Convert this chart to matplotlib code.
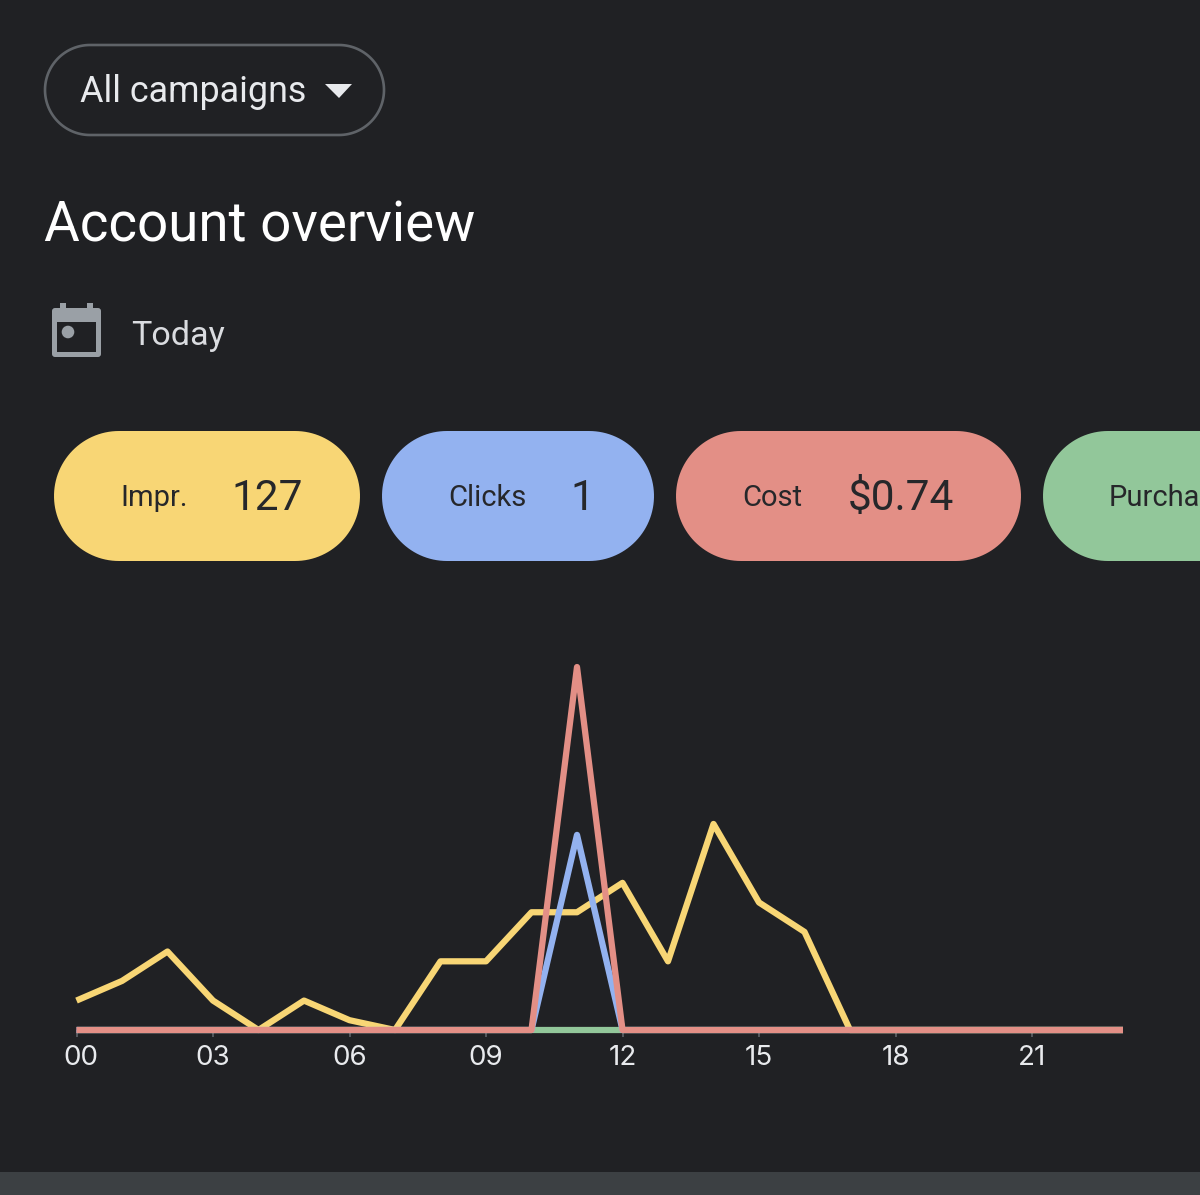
import numpy as np
import matplotlib
matplotlib.use("Agg")
import matplotlib.pyplot as plt
from matplotlib.patches import FancyBboxPatch, Rectangle, Polygon, Circle
from matplotlib.transforms import ScaledTranslation

hours = list(range(24))
impressions = [3, 5, 8, 3, 0, 3, 1, 0, 7, 7, 12, 12, 15, 7, 21, 13, 10, 0, 0, 0, 0, 0, 0, 0]
clicks = [0] * 11 + [1] + [0] * 12
cost = [0] * 11 + [0.74] + [0] * 12
purchases = [0] * 24
tick_hours = [0, 3, 6, 9, 12, 15, 18, 21]
tick_labels = ["00", "03", "06", "09", "12", "15", "18", "21"]

BG = "#202124"
YELLOW = "#F8D675"
BLUE = "#93B2F0"
RED = "#E38F86"
GREEN = "#92C79A"
DARK = "#26272A"
W, H = 1200, 1195

plt.rcParams["font.family"] = ["Roboto", "DejaVu Sans"]
fig = plt.figure(figsize=(W / 100, H / 100), dpi=100, facecolor=BG)

ui = fig.add_axes([0, 0, 1, 1], zorder=0)
ui.set_xlim(0, W)
ui.set_ylim(H, 0)
ui.axis("off")

ui.add_patch(Rectangle((0, 1172), W, 23, fc="#3C4043", ec="none"))


def pill(x0, x1, y0, y1, fc, ec="none", lw=0):
    r = (y1 - y0) / 2
    cy = (y0 + y1) / 2
    t = np.linspace(-np.pi / 2, np.pi / 2, 60)
    xs = np.r_[x1 - r + r * np.cos(t), x0 + r - r * np.cos(t)]
    ys = np.r_[cy + r * np.sin(t), cy - r * np.sin(t)]
    ui.add_patch(Polygon(np.c_[xs, ys], closed=True, fc=fc, ec=ec, lw=lw))


pill(45, 384, 45, 135, "none", ec="#5F6368", lw=1.9)
ui.text(80, 92, "All campaigns", color="#E8EAED", fontsize=25.8, va="center", ha="left")
ui.add_patch(Polygon([[325, 84], [352, 84], [339, 98]], fc="#E8EAED", ec="none"))
ui.text(44, 226, "Account overview", color="#FFFFFF", fontsize=39.4, va="center", ha="left")

# calendar icon
ui.add_patch(FancyBboxPatch((52, 308), 49, 49, boxstyle="round,pad=0,rounding_size=3",
                            fc="#9AA0A6", ec="none"))
ui.add_patch(Rectangle((60, 303), 6, 8, fc="#9AA0A6", ec="none"))
ui.add_patch(Rectangle((87, 303), 6, 8, fc="#9AA0A6", ec="none"))
ui.add_patch(Rectangle((57, 322), 39, 30, fc=BG, ec="none"))
ui.add_patch(Circle((68, 332), 6.3, fc="#9AA0A6", ec="none"))
ui.text(131, 336, "Today", color="#DADCE0", fontsize=24.6, va="center", ha="left")

pill(54, 360, 431, 561, YELLOW)
pill(382, 654, 431, 561, BLUE)
pill(676, 1021, 431, 561, RED)
pill(1043, 1400, 431, 561, GREEN)
for x, label in [(120, "Impr."), (448, "Clicks"), (742, "Cost"), (1109, "Purcha")]:
    ui.text(x, 498, label, color=DARK, fontsize=21, va="center", ha="left")
for x, value in [(231, "127"), (570, "1"), (848, "$0.74")]:
    ui.text(x, 498, value, color=DARK, fontsize=30.5, va="center", ha="left")

# chart: each metric has its own y scale, sharing a zero baseline
left, right, bottom, top = 76.5, 1123, 1030, 630
pos = [left / W, 1 - bottom / H, (right - left) / W, (bottom - top) / H]
ax = fig.add_axes(pos, zorder=1)
ax.patch.set_alpha(0)
ax.set_xlim(0, 23)
ax.set_ylim(0, 40.77)
ax.set_yticks([])
for s in ax.spines.values():
    s.set_visible(False)
ax.set_xticks(tick_hours, tick_labels, family=["Inter", "DejaVu Sans"])
ax.tick_params(axis="x", length=5, width=1.2, color="#5F6368", labelcolor="#E8EAED",
               labelsize=20, pad=6)

ax_clicks = ax.twinx()
ax_clicks.set_ylim(0, 2.05)
ax_cost = ax.twinx()
ax_cost.set_ylim(0, 0.8155)
for a in (ax_clicks, ax_cost):
    a.set_yticks([])
    a.patch.set_alpha(0)
    for s in a.spines.values():
        s.set_visible(False)

style = dict(lw=4.5, solid_capstyle="butt", solid_joinstyle="round", clip_on=False)
ax.plot(hours, purchases, color=GREEN, zorder=2, **style)
ax.plot(hours, impressions, color=YELLOW, zorder=3, **style)
ax_clicks.plot(hours, clicks, color=BLUE, zorder=4, **style)
ax_cost.plot(hours, cost, color=RED, zorder=5, **style)

first = ax.get_xticklabels()[0]
first.set_transform(first.get_transform() + ScaledTranslation(4 / 100, 0, fig.dpi_scale_trans))

fig.savefig("out.png", dpi=100, facecolor=BG)
